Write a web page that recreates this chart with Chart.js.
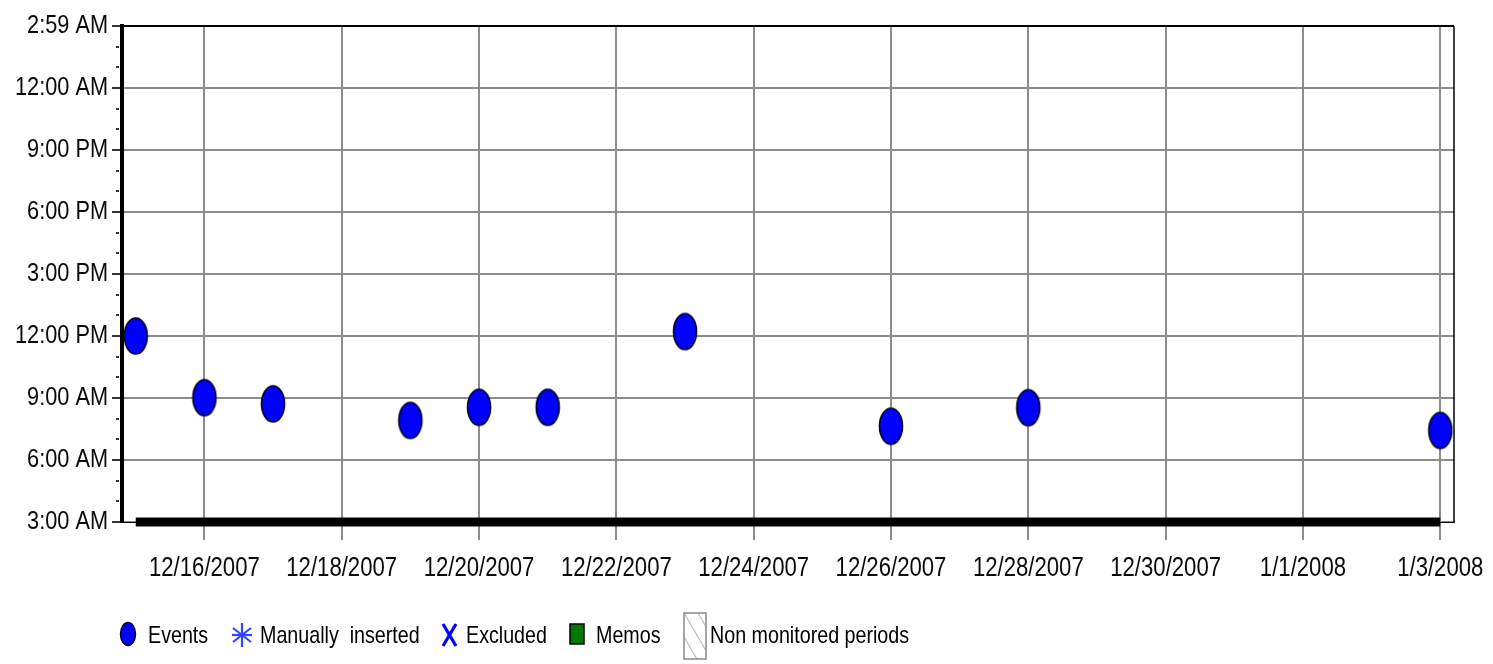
<!DOCTYPE html>
<html>
<head>
<meta charset="utf-8">
<title>Events</title>
<script src="https://cdn.jsdelivr.net/npm/chart.js@4"></script>
<style>
    html, body { margin: 0; padding: 0; background: #fff; }
    #wrap { position: relative; width: 1493px; height: 664px; }
    #legend { position: absolute; left: 0; top: 0; width: 1493px; height: 664px; pointer-events: none;
        font-family: 'Liberation Sans', Arial, sans-serif; font-size: 24px; color: #000; }
    #legend span { position: absolute; white-space: nowrap; transform: scaleX(0.82); transform-origin: left center; }
    #legend svg { position: absolute; }
</style>
</head>
<body>
<div id="wrap">
    <canvas id="eventChart" width="1493" height="664"></canvas>
    <div id="legend">
        <svg style="left:119px;top:621px" width="18" height="26"><ellipse cx="9" cy="13" rx="7.5" ry="11.5" fill="#0000ff" stroke="#000033" stroke-width="1.4"/></svg>
        <span style="left:148px;top:621px">Events</span>
        <svg style="left:231px;top:622px" width="22" height="26" stroke="#3344ff" stroke-width="2.2"><line x1="11" y1="1" x2="11" y2="25"/><line x1="2" y1="6" x2="20" y2="20"/><line x1="2" y1="20" x2="20" y2="6"/><line x1="1" y1="13" x2="21" y2="13"/></svg>
        <span style="left:260px;top:621px">Manually&nbsp; inserted</span>
        <svg style="left:441px;top:622px" width="17" height="26" stroke="#0000ff" stroke-width="3.2"><line x1="2" y1="2" x2="15" y2="24"/><line x1="15" y1="2" x2="2" y2="24"/></svg>
        <span style="left:466px;top:621px">Excluded</span>
        <svg style="left:569px;top:623px" width="16" height="22"><rect x="1" y="1" width="14" height="20" fill="#007a00" stroke="#000" stroke-width="1.5"/></svg>
        <span style="left:596px;top:621px">Memos</span>
        <svg style="left:683px;top:612px" width="24" height="48">
            <defs><pattern id="hatch" width="12" height="12" patternUnits="userSpaceOnUse" patternTransform="rotate(-30)"><line x1="0" y1="0" x2="0" y2="12" stroke="#999" stroke-width="1.5"/></pattern></defs>
            <rect x="1" y="1" width="22" height="46" fill="url(#hatch)" stroke="#888" stroke-width="1.5"/>
        </svg>
        <span style="left:710px;top:621px">Non monitored periods</span>
    </div>
</div>
<script>
// Event dates and times of day
const eventDates = ['12/15/2007', '12/16/2007', '12/17/2007', '12/19/2007', '12/20/2007',
    '12/21/2007', '12/23/2007', '12/26/2007', '12/28/2007', '1/3/2008'];
const eventTimes = ['12:00 PM', '9:01 AM', '8:43 AM', '7:55 AM', '8:33 AM',
    '8:33 AM', '12:13 PM', '7:38 AM', '8:32 AM', '7:26 AM'];

// Monitored period (thick bar on the time axis)
const monitoredPeriod = ['12/15/2007', '1/3/2008'];

// Axis labels
const xTickLabels = ['12/16/2007', '12/18/2007', '12/20/2007', '12/22/2007', '12/24/2007',
    '12/26/2007', '12/28/2007', '12/30/2007', '1/1/2008', '1/3/2008'];
const yTickLabels = ['3:00 AM', '6:00 AM', '9:00 AM', '12:00 PM', '3:00 PM',
    '6:00 PM', '9:00 PM', '12:00 AM', '2:59 AM'];

const startDate = new Date(2007, 11, 15);
const FONT = "'Liberation Sans', Arial, sans-serif";

// Days since the start date
function dayIndex(label) {
    const [m, d, y] = label.split('/').map(Number);
    return Math.round((new Date(y, m - 1, d) - startDate) / 86400000);
}

// Hours since 3:00 AM
function hoursFrom3am(label) {
    const [hm, ap] = label.split(' ');
    let [h, m] = hm.split(':').map(Number);
    if (ap === 'PM' && h !== 12) h += 12;
    if (ap === 'AM' && h === 12) h = 0;
    let v = h + m / 60 - 3;
    if (v < 0) v += 24;
    return v;
}

// Blue ellipse marker
function ellipseMarker() {
    const c = document.createElement('canvas');
    c.width = 28;
    c.height = 40;
    const g = c.getContext('2d');
    g.beginPath();
    g.ellipse(14, 20, 11.5, 18, 0, 0, Math.PI * 2);
    g.fillStyle = '#0000ff';
    g.fill();
    g.lineWidth = 1.6;
    g.strokeStyle = '#000022';
    g.stroke();
    return c;
}

// Narrow tick labels (text squeezed horizontally like the original)
function drawNarrow(ctx, text, x, y, align) {
    ctx.save();
    ctx.translate(x, y);
    ctx.scale(0.82, 1);
    ctx.textAlign = align;
    ctx.fillText(text, 0, 0);
    ctx.restore();
}

// Top/right frame lines and the tick labels
const framePlugin = {
    id: 'frame',
    afterDraw(chart) {
        const { ctx, chartArea: a } = chart;
        const xs = chart.scales.x;
        const ys = chart.scales.y;
        ctx.save();
        ctx.strokeStyle = '#000';
        ctx.lineWidth = 2;
        ctx.beginPath();
        ctx.moveTo(a.left, a.top);
        ctx.lineTo(a.right, a.top);
        ctx.stroke();
        ctx.lineWidth = 1.5;
        ctx.beginPath();
        ctx.moveTo(a.right, a.top);
        ctx.lineTo(a.right, a.bottom);
        ctx.stroke();

        ctx.fillStyle = '#0a0a0a';
        ctx.textBaseline = 'middle';
        ctx.font = '26.5px ' + FONT;
        yTickLabels.forEach((l, i) => {
            drawNarrow(ctx, l, a.left - 14, ys.getPixelForValue(i * 3), 'right');
        });
        ctx.font = '27px ' + FONT;
        xTickLabels.forEach(l => {
            drawNarrow(ctx, l, xs.getPixelForValue(dayIndex(l)), a.bottom + 47, 'center');
        });
        ctx.restore();
    }
};

const eventPoints = eventDates.map((d, i) => ({ x: dayIndex(d), y: hoursFrom3am(eventTimes[i]) }));
const monitoredPoints = monitoredPeriod.map(d => ({ x: dayIndex(d), y: 0 }));

new Chart(document.getElementById('eventChart'), {
    type: 'scatter',
    data: {
        datasets: [{
            label: 'Events',
            data: eventPoints,
            pointStyle: ellipseMarker(),
            order: 0
        }, {
            type: 'line',
            label: 'Monitored',
            data: monitoredPoints,
            borderColor: '#000',
            borderWidth: 9,
            pointRadius: 0,
            clip: false,
            order: 1
        }]
    },
    options: {
        responsive: false,
        animation: false,
        layout: { padding: { top: 26, right: 39, left: 0, bottom: 0 } },
        plugins: {
            legend: { display: false },
            tooltip: { enabled: false }
        },
        scales: {
            x: {
                type: 'linear',
                min: -0.2,
                max: 19.2,
                afterFit: scale => { scale.height = 142; },
                afterBuildTicks: scale => {
                    scale.ticks = xTickLabels.map(l => ({ value: dayIndex(l) }));
                },
                ticks: { display: false },
                grid: { color: '#8c8c8c', lineWidth: 2, tickLength: 18 },
                border: { color: '#000', width: 1 }
            },
            y: {
                min: 0,
                max: 24,
                afterFit: scale => { scale.width = 122; },
                ticks: { display: false, stepSize: 1, autoSkip: false },
                grid: {
                    color: c => (c.tick && c.tick.value % 3 === 0 ? '#8c8c8c' : 'transparent'),
                    tickColor: '#333',
                    // minor hour ticks are short stubs next to the axis
                    tickBorderDash: c => (c.tick && c.tick.value % 3 === 0 ? [] : [0, 4, 3, 40]),
                    lineWidth: 2,
                    tickLength: 10
                },
                border: { color: '#000', width: 4 }
            }
        }
    },
    plugins: [framePlugin]
});
</script>
</body>
</html>
